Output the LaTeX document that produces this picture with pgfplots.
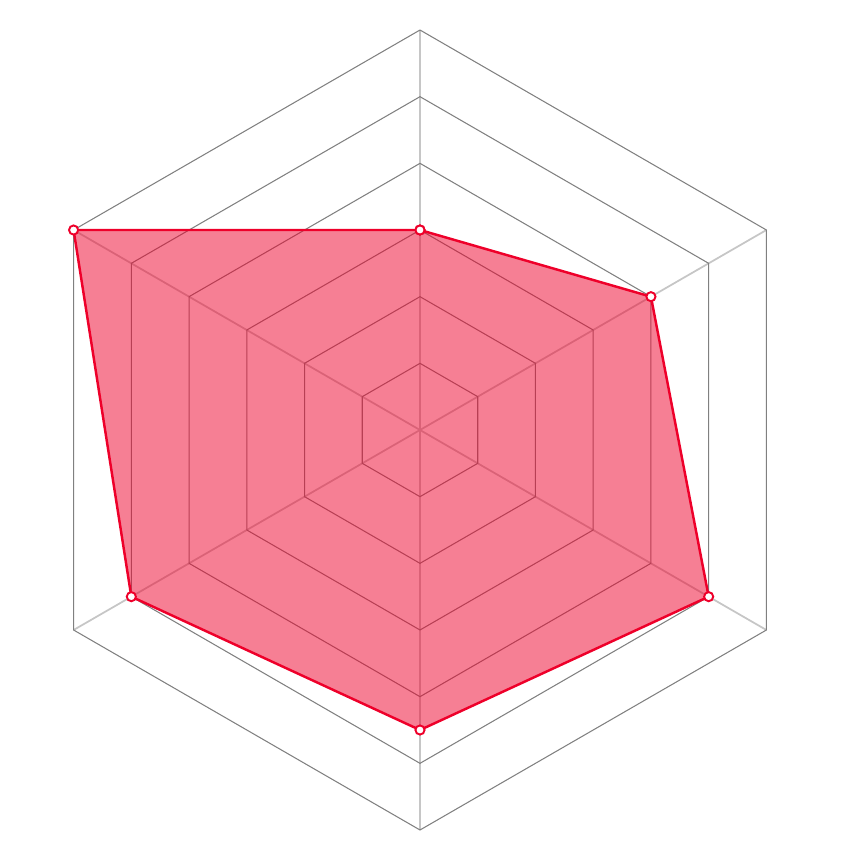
\documentclass[border=0pt]{standalone}
\usepackage{pgfplots}
\usepackage{pgfplotstable}
\pgfplotsset{compat=1.18}

\definecolor{serie}{RGB}{238,0,42}
\definecolor{ring}{RGB}{128,128,128}
\definecolor{spoke}{RGB}{198,198,198}

% angle (deg) and value, one row per axis of the radar, closed
\pgfplotstableread{
a    r
90   3
30   4
-30  5
-90  4.5
-150 5
150  6
90   3
}\scores

\pgfplotstableread{
a    u
90   1
30   1
-30  1
-90  1
-150 1
150  1
90   1
}\hexa

\begin{document}
\begin{tikzpicture}
\begin{axis}[
    scale only axis,
    width=8.6cm, height=8.6cm,
    xmin=-6.3, xmax=6.6,
    ymin=-6.45, ymax=6.45,
    hide axis,
    clip=false,
]
  % spokes
  \addplot[spoke, line width=0.5pt] coordinates {(0,0) (0,6)};
  \addplot[spoke, line width=0.5pt] coordinates {(0,0) (5.19615,3)};
  \addplot[spoke, line width=0.5pt] coordinates {(0,0) (5.19615,-3)};
  \addplot[spoke, line width=0.5pt] coordinates {(0,0) (0,-6)};
  \addplot[spoke, line width=0.5pt] coordinates {(0,0) (-5.19615,-3)};
  \addplot[spoke, line width=0.5pt] coordinates {(0,0) (-5.19615,3)};
  % rings
  \pgfplotsinvokeforeach{1,...,6}{
    \addplot[ring, line width=0.3pt] table[
      x expr={#1*\thisrow{u}*cos(\thisrow{a})},
      y expr={#1*\thisrow{u}*sin(\thisrow{a})}] {\hexa};
  }
  % data
  \addplot[serie, line width=0.7pt, fill=serie, fill opacity=0.5,
           draw opacity=1] table[
      x expr={\thisrow{r}*cos(\thisrow{a})},
      y expr={\thisrow{r}*sin(\thisrow{a})}] {\scores};
  \addplot[only marks, mark=*, mark size=1.3pt,
           mark options={draw=serie, fill=white, line width=0.55pt}] table[
      x expr={\thisrow{r}*cos(\thisrow{a})},
      y expr={\thisrow{r}*sin(\thisrow{a})}] {\scores};
  \path[use as bounding box] (rel axis cs:0,0) rectangle (rel axis cs:1,1);
\end{axis}
\end{tikzpicture}
\end{document}
